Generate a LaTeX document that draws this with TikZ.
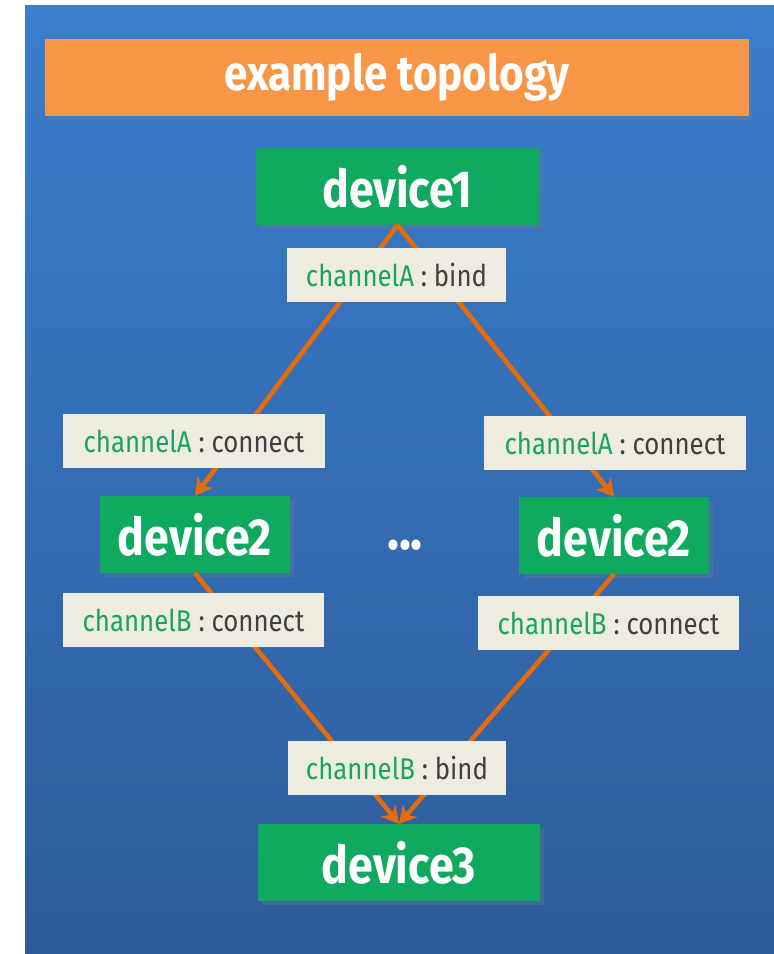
\documentclass[tikz,border=0pt]{standalone}
\usepackage{fontspec}
\setmainfont{Fira Sans}[FakeStretch=0.86]
\usepackage{tikz}
\usepackage{xcolor}
\usetikzlibrary{shadows,arrows.meta}
\definecolor{panelTop}{HTML}{3B7ECC}
\definecolor{panelBottom}{HTML}{2D5C9B}
\definecolor{titleOrange}{HTML}{F79646}
\definecolor{deviceGreen}{HTML}{0FA960}
\definecolor{labelBeige}{HTML}{EEEBE0}
\definecolor{chanGreen}{HTML}{1AA463}
\definecolor{textGray}{HTML}{404040}
\definecolor{linkOrange}{HTML}{E46C0A}
\tikzset{
    title-box/.style = {fill=titleOrange, text=white, rectangle, minimum width=704pt, minimum height=77pt, font=\fontsize{49}{52}\selectfont\bfseries, drop shadow={opacity=0.25, shadow xshift=3pt, shadow yshift=-4pt}},
    device-box/.style = {fill=deviceGreen, text=white, rectangle, minimum height=77pt, font=\fontsize{52}{56}\selectfont\bfseries, drop shadow={opacity=0.25, shadow xshift=4pt, shadow yshift=-4pt}},
    channel-box/.style = {fill=labelBeige, text=textGray, rectangle, minimum height=54pt, font=\fontsize{30}{33}\selectfont},
    link-arrow/.style = {draw=linkOrange, line width=4.6pt, -{Stealth[length=17pt,width=19pt,inset=5pt]}},
}
\newcommand{\chan}[2]{\textcolor{chanGreen}{#1} : #2}

\begin{document}
\begin{tikzpicture}[x=1pt, y=-1pt]
\useasboundingbox (0,0) rectangle (774,954);
\shade[top color=panelTop, bottom color=panelBottom] (25,5) rectangle (774,954);
\node[title-box] (title) at (397,77.5) {example topology};
% devices
\node[device-box, minimum width=283pt] (dev1) at (397.5,186.5) {device1};
\node[device-box, minimum width=190pt] (dev2l) at (195,534.5) {device2};
\node[device-box, minimum width=190pt] (dev2r) at (614,535.5) {device2};
\node[device-box, minimum width=282pt] (dev3) at (399,862.5) {device3};
\node[text=white, font=\fontsize{58}{60}\selectfont\bfseries] (dots) at (405,545) {...};
% links
\draw[link-arrow] (dev1.south) -- (dev2l.north);
\draw[link-arrow] (dev1.south) -- (dev2r.north);
\draw[link-arrow] (dev2l.south) -- (dev3.north);
\draw[link-arrow] (dev2r.south) -- (dev3.north);
% channel labels
\node[channel-box, minimum width=219pt] (bindA) at (396.5,275) {\chan{channelA}{bind}};
\node[channel-box, minimum width=262pt] (connAl) at (194,441) {\chan{channelA}{connect}};
\node[channel-box, minimum width=262pt] (connAr) at (615,443) {\chan{channelA}{connect}};
\node[channel-box, minimum width=261pt] (connBl) at (193.5,620) {\chan{channelB}{connect}};
\node[channel-box, minimum width=261pt] (connBr) at (608.5,623) {\chan{channelB}{connect}};
\node[channel-box, minimum width=218pt] (bindB) at (397,767.5) {\chan{channelB}{bind}};
\end{tikzpicture}
\end{document}
